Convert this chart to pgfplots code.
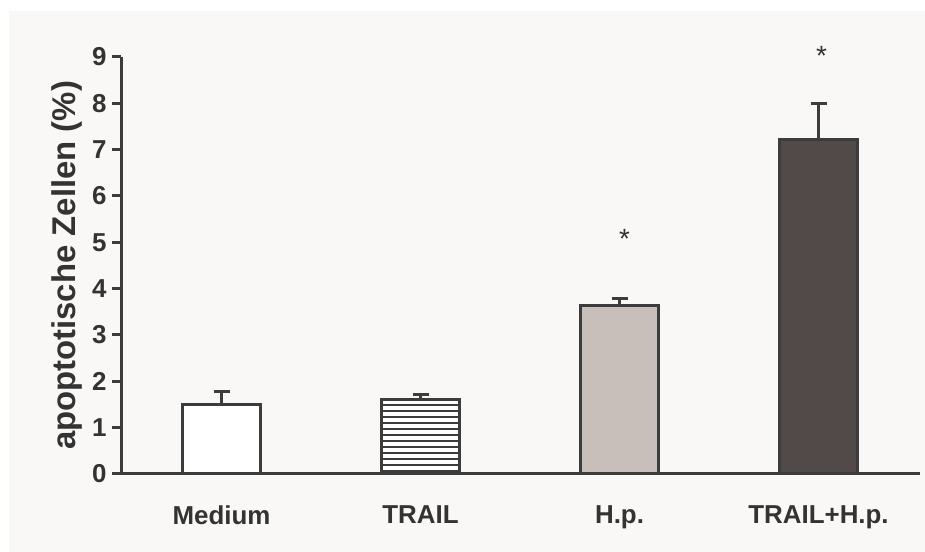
\documentclass[border=0pt]{standalone}
\usepackage{pgfplots}
\pgfplotsset{compat=1.18}
\usepackage{fontspec}
\setmainfont{Liberation Sans}
\usetikzlibrary{patterns}
\pgfdeclarepatternformonly{hlinesix}{\pgfpoint{-1bp}{-1bp}}{\pgfpoint{7bp}{7bp}}{\pgfpoint{6bp}{6bp}}{%
  \pgfsetlinewidth{1.3bp}%
  \pgfpathmoveto{\pgfpoint{-1bp}{3bp}}\pgfpathlineto{\pgfpoint{7bp}{3bp}}\pgfusepath{stroke}}
\definecolor{panel}{HTML}{F9F8F7}
\definecolor{linec}{HTML}{3C3C3C}
\definecolor{txt}{HTML}{333333}
\definecolor{hpfill}{HTML}{C8BFBA}
\definecolor{darkfill}{HTML}{524A49}
\begin{document}
\begin{tikzpicture}[x=1bp,y=1bp]
\useasboundingbox (0,0) rectangle (925,552);
\fill[white] (0,0) rectangle (925,552);
\fill[panel] (9,0) rectangle (925,541);
\begin{axis}[
  at={(121bp,78bp)}, anchor=south west,
  scale only axis, width=799bp, height=417bp,
  xmin=-0.505, xmax=3.51, ymin=0, ymax=9,
  axis x line=bottom, axis y line=left,
  axis line style={line width=3bp, color=linec, -},
  xtick={0,1,2,3},
  xticklabels={Medium,TRAIL,H.p.,TRAIL+H.p.},
  ytick={0,1,...,9},
  xtick style={draw=none},
  ytick style={line width=3bp, color=linec},
  tick align=outside,
  major tick length=9bp,
  /pgf/number format/assume math mode=true,
  tick label style={font=\fontsize{26}{26}\selectfont\bfseries, text=txt},
  xticklabel style={yshift=-19bp},
  yticklabel style={xshift=-2bp},
  ylabel={apoptotische Zellen (\%)},
  ylabel style={font=\fontsize{33}{33}\selectfont\bfseries, text=txt},
  ylabel shift=3bp,
  ybar, bar width=78bp, bar shift=0pt,
  clip=false,
  every axis plot/.append style={draw=linec, line width=3bp},
  error bars/y dir=plus, error bars/y explicit,
  error bars/error bar style={line width=3bp, color=linec},
  error bars/error mark options={rotate=90, mark size=8bp, line width=3bp, color=linec},
]
\addplot[fill=white] coordinates {(0,1.51) +- (0,0.26)};
\addplot[fill=white, postaction={pattern=hlinesix, pattern color=linec}] coordinates {(1,1.60) +- (0,0.11)};
\addplot[fill=hpfill] coordinates {(2,3.64) +- (0,0.15)};
\addplot[fill=darkfill] coordinates {(3,7.21) +- (0,0.78)};
\node[font=\fontsize{28}{28}\selectfont, text=txt] at (axis cs:2.025,5.08) {*};
\node[font=\fontsize{28}{28}\selectfont, text=txt] at (axis cs:3.015,9.03) {*};
\end{axis}
\end{tikzpicture}
\end{document}
